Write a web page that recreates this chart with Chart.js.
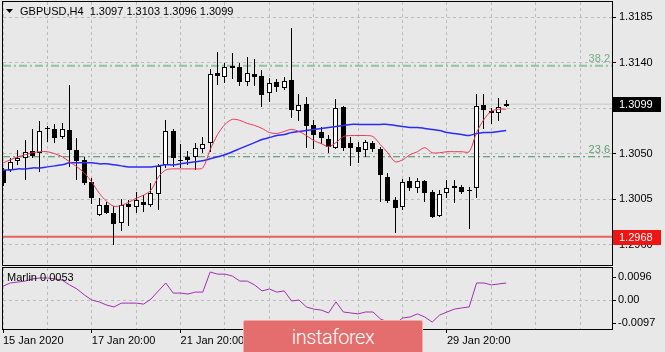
<!DOCTYPE html>
<html>
<head>
<meta charset="utf-8">
<script src="https://cdn.jsdelivr.net/npm/chart.js@4.4.0/dist/chart.umd.min.js"></script>
<style>
  html, body { margin: 0; padding: 0; background: #e8e8e8; }
  #wrap { position: relative; width: 665px; height: 352px; overflow: hidden; background: #e8e8e8; }
  #mainChart { position: absolute; left: 0; top: 0; }
  #subChart { position: absolute; left: 0; top: 266px; }
  #logo {
    position: absolute; left: 243px; top: 320px; width: 178px; height: 40px;
    background: #e46d6d; border: 1px solid #f2a9a9; border-radius: 2px;
    color: #fff; font: 300 20px Roboto, sans-serif; letter-spacing: -0.5px;
    line-height: 32px; text-align: center;
  }
</style>
</head>
<body>
<div id="wrap">
  <canvas id="mainChart" width="665" height="267"></canvas>
  <canvas id="subChart" width="665" height="86"></canvas>
  <div id="logo">instaforex</div>
</div>
<script>
// GBPUSD H4 candles, oldest first
const opens = [1.3034,1.3034,1.3043,1.3046,1.3053,1.3051,1.3075,1.3074,1.3067,1.3073,
  1.3054,1.3044,1.3022,1.2989,1.2999,1.2991,1.2982,1.3000,1.2997,1.3002,
  1.2999,1.3010,1.3039,1.3072,1.3044,1.3047,1.3047,1.3055,1.3061,1.3130,
  1.3126,1.3137,1.3136,1.3121,1.3129,1.3127,1.3110,1.3121,1.3115,1.3123,
  1.3092,1.3099,1.3078,1.3071,1.3065,1.3056,1.3096,1.3061,1.3057,1.3054,
  1.3061,1.3055,1.3027,1.3004,1.2997,1.3023,1.3016,1.3023,1.3012,1.2988,
  1.3011,1.3016,1.3017,1.3014,1.3016,1.3098,1.3092,1.3090,1.3097];
const highs = [1.3036,1.3046,1.3054,1.3064,1.3074,1.3082,1.3077,1.3079,1.3080,1.3118,
  1.3066,1.3047,1.3026,1.3006,1.3002,1.2998,1.3005,1.3004,1.3012,1.3009,
  1.3021,1.3040,1.3083,1.3074,1.3060,1.3053,1.3061,1.3067,1.3134,1.3151,
  1.3140,1.3150,1.3140,1.3146,1.3144,1.3133,1.3125,1.3124,1.3126,1.3174,
  1.3109,1.3106,1.3083,1.3076,1.3069,1.3104,1.3097,1.3067,1.3062,1.3064,
  1.3063,1.3057,1.3031,1.3007,1.3025,1.3027,1.3026,1.3024,1.3014,1.3014,
  1.3024,1.3024,1.3019,1.3017,1.3109,1.3109,1.3095,1.3105,1.3103];
const lows = [1.3018,1.3032,1.3039,1.3024,1.3046,1.3032,1.3062,1.3061,1.3065,1.3037,
  1.3024,1.3019,1.3000,1.2988,1.2990,1.2960,1.2974,1.2979,1.2991,1.2992,
  1.2997,1.2994,1.3036,1.3037,1.3036,1.3039,1.3034,1.3051,1.3052,1.3118,
  1.3120,1.3124,1.3117,1.3117,1.3117,1.3096,1.3101,1.3111,1.3113,1.3085,
  1.3082,1.3056,1.3055,1.3060,1.3051,1.3055,1.3053,1.3038,1.3041,1.3047,
  1.3052,1.3002,1.3001,1.2972,1.2994,1.3013,1.3011,1.3002,1.2986,1.2987,
  1.3006,1.3001,1.3010,1.2976,1.3006,1.3074,1.3079,1.3082,1.3096];
const closes = [1.3021,1.3042,1.3046,1.3052,1.3048,1.3072,1.3074,1.3066,1.3074,1.3054,
  1.3043,1.3021,1.3006,1.2999,1.2991,1.2981,1.2999,1.2997,1.3004,1.2999,
  1.3011,1.3038,1.3072,1.3046,1.3043,1.3044,1.3056,1.3060,1.3129,1.3127,
  1.3136,1.3135,1.3121,1.3130,1.3126,1.3108,1.3120,1.3116,1.3122,1.3093,
  1.3098,1.3077,1.3069,1.3066,1.3057,1.3095,1.3056,1.3056,1.3052,1.3062,
  1.3055,1.3029,1.3003,1.2996,1.3022,1.3016,1.3023,1.3011,1.2987,1.3010,
  1.3016,1.3018,1.3012,1.3013,1.3097,1.3093,1.3090,1.3096,1.3099];

// moving averages (red = fast, blue = slow)
const fastMa = [1.3041,1.3044,1.3047,1.3049,1.3051,1.3052,1.3052,1.3050,1.3047,1.3042,
  1.3037,1.3031,1.3022,1.3011,1.3003,1.2998,1.2999,1.3002,1.3006,1.3009,
  1.3014,1.3027,1.3034,1.3035,1.3035,1.3035,1.3035,1.3036,1.3054,1.3069,
  1.3079,1.3084,1.3083,1.3080,1.3078,1.3075,1.3071,1.3070,1.3072,1.3074,
  1.3072,1.3068,1.3063,1.3060,1.3057,1.3061,1.3067,1.3068,1.3068,1.3068,
  1.3067,1.3059,1.3051,1.3042,1.3044,1.3049,1.3052,1.3056,1.3051,1.3051,
  1.3052,1.3052,1.3052,1.3052,1.3071,1.3084,1.3092,1.3094,1.3094];
const slowMa = [1.3034,1.3034,1.3035,1.3035,1.3036,1.3036,1.3037,1.3038,1.3039,1.3041,
  1.3041,1.3041,1.3041,1.3040,1.3040,1.3039,1.3038,1.3037,1.3037,1.3037,
  1.3037,1.3038,1.3039,1.3039,1.3040,1.3041,1.3042,1.3043,1.3045,1.3047,
  1.3049,1.3052,1.3055,1.3058,1.3061,1.3064,1.3066,1.3068,1.3069,1.3071,
  1.3072,1.3073,1.3074,1.3075,1.3076,1.3077,1.3078,1.3079,1.3079,1.3079,
  1.3079,1.3079,1.3079,1.3078,1.3077,1.3076,1.3076,1.3075,1.3074,1.3073,
  1.3071,1.3070,1.3069,1.3068,1.3070,1.3071,1.3071,1.3072,1.3073];

// Marlin oscillator
const marlin = [0.0058,0.0071,0.0075,0.0079,0.0088,0.0092,0.0092,0.0088,0.0083,0.0063,
  0.0046,0.0021,0.0000,-0.0008,-0.0021,-0.0029,-0.0013,-0.0013,-0.0013,-0.0017,
  0.0004,0.0038,0.0071,0.0029,0.0029,0.0025,0.0033,0.0033,0.0117,0.0108,
  0.0108,0.0100,0.0079,0.0079,0.0063,0.0038,0.0046,0.0033,0.0038,-0.0004,
  0.0000,-0.0029,-0.0038,-0.0042,-0.0054,-0.0008,-0.0050,-0.0054,-0.0058,-0.0050,
  -0.0050,-0.0079,-0.0092,-0.0100,-0.0075,-0.0071,-0.0058,-0.0071,-0.0092,-0.0063,
  -0.0050,-0.0038,-0.0033,-0.0029,0.0071,0.0071,0.0063,0.0067,0.0071];

const priceTicks = [1.2960, 1.3005, 1.3050, 1.3095, 1.3140, 1.3185];
const marlinTicks = [-0.0097, 0, 0.0096];
const timeLabels = ['15 Jan 2020', '17 Jan 20:00', '21 Jan 20:00', '23 Jan 20:00', '27 Jan 20:00', '29 Jan 20:00'];
const fibLabels = ['38.2', '23.6'];
const fibValues = [1.3137, 1.3047];
const supportLevel = 1.2968;
const marlinLabel = 'Marlin 0.0053';
const symbolTitle = 'GBPUSD,H4';

const X_MAX = 82.3;        // empty space right of the last bar
const BARS_PER_GRID = 6;   // one grid line per day
const BARS_PER_LABEL = 12;

Chart.defaults.font.family = "'Liberation Sans', Arial, sans-serif";
Chart.defaults.font.size = 11;
Chart.defaults.color = '#000';

const gridColor = '#bcbcbc';
const idx = closes.map((_, i) => i);
const last = closes.length - 1;
const fix4 = v => v.toFixed(4);

function timeTicks(scale) {
  const t = [];
  for (let v = 0; v <= X_MAX; v += BARS_PER_GRID) t.push({ value: v });
  scale.ticks = t;
}
function levelLine(v) {
  return [{ x: 0, y: v }, { x: X_MAX, y: v }];
}
// fixed axis sizes, no extra label padding around the plot
function fitTo(size) {
  return s => {
    if (s.isHorizontal()) s.height = size; else s.width = size;
    s.paddingTop = 0; s.paddingBottom = 0; s.paddingLeft = 0; s.paddingRight = 0;
  };
}

// round bars to whole pixels so candles stay crisp
const snapPlugin = {
  id: 'snap',
  afterDatasetsUpdate(chart) {
    chart.data.datasets.forEach((ds, di) => {
      if (ds.type !== 'bar') return;
      chart.getDatasetMeta(di).data.forEach(el => {
        el.x = Math.round(el.x - 0.5) + 0.5;
        el.y = Math.round(el.y);
        el.base = Math.round(el.base);
      });
    });
  }
};

const framePlugin = {
  id: 'frame',
  afterDatasetsDraw(chart) {
    const { ctx, chartArea: a } = chart;
    ctx.save();
    ctx.strokeStyle = '#000';
    ctx.lineWidth = 1;
    ctx.strokeRect(a.left - 0.5, a.top - 0.5, a.right - a.left + 1, a.bottom - a.top + 1);
    ctx.restore();
  }
};

function priceBox(ctx, y, text, bg) {
  ctx.fillStyle = bg;
  ctx.fillRect(613, Math.round(y) - 7, 48, 15);
  ctx.fillStyle = '#fff';
  ctx.textAlign = 'left';
  ctx.textBaseline = 'middle';
  ctx.fillText(text, 619, Math.round(y) + 0.5);
}

const mainTexts = {
  id: 'mainTexts',
  afterDraw(chart) {
    const { ctx, chartArea: a } = chart;
    const ys = chart.scales.y;
    ctx.save();
    ctx.font = "11px 'Liberation Sans', Arial, sans-serif";
    // header
    ctx.fillStyle = '#000';
    ctx.beginPath();
    ctx.moveTo(6, 9); ctx.lineTo(13, 9); ctx.lineTo(9.5, 13); ctx.closePath();
    ctx.fill();
    ctx.textBaseline = 'middle';
    ctx.textAlign = 'left';
    const hdr = symbolTitle + '  ' + [opens[last], highs[last], lows[last], closes[last]].map(fix4).join(' ');
    ctx.fillText(hdr, 20, 12);
    // fibo level captions
    ctx.textAlign = 'right';
    ctx.textBaseline = 'bottom';
    fibLabels.forEach((lab, i) => {
      ctx.fillStyle = i === 0 ? '#72ad87' : '#5c9d74';
      ctx.fillText(lab, a.right - 2, ys.getPixelForValue(fibValues[i]) - 1);
    });
    // price boxes on the axis
    priceBox(ctx, ys.getPixelForValue(closes[last]), fix4(closes[last]), '#000');
    priceBox(ctx, ys.getPixelForValue(supportLevel), fix4(supportLevel), '#f01414');
    ctx.restore();
  }
};

new Chart(document.getElementById('mainChart'), {
  type: 'bar',
  data: {
    datasets: [
      { type: 'line', data: levelLine(closes[last]), borderColor: '#c9c9c9', borderWidth: 1, pointRadius: 0, order: 12 },
      { type: 'line', data: levelLine(fibValues[0]), borderColor: '#8fc4a2', borderWidth: 2, borderDash: [8, 3, 2, 3], pointRadius: 0, order: 11 },
      { type: 'line', data: levelLine(fibValues[1]), borderColor: '#3f8f5e', borderWidth: 1, borderDash: [7, 3, 2, 3], pointRadius: 0, order: 11 },
      { type: 'line', data: levelLine(supportLevel), borderColor: '#e86262', borderWidth: 2, pointRadius: 0, order: 11 },
      {
        type: 'bar', data: idx.map(i => ({ x: i, y: [lows[i], highs[i]] })),
        backgroundColor: '#000', borderWidth: 0, barThickness: 1, minBarLength: 1,
        grouped: false, inflateAmount: 0, order: 6
      },
      {
        type: 'bar', data: idx.map(i => ({ x: i, y: [opens[i], closes[i]] })),
        backgroundColor: idx.map(i => closes[i] >= opens[i] ? '#fff' : '#000'),
        borderColor: '#000', borderWidth: 1, borderSkipped: false, barThickness: 5,
        minBarLength: 1, grouped: false, inflateAmount: 0, order: 5
      },
      { type: 'line', data: idx.map(i => ({ x: i, y: slowMa[i] })), borderColor: '#2b2bf5', borderWidth: 1.5, pointRadius: 0, tension: 0.3, order: 2 },
      { type: 'line', data: idx.map(i => ({ x: i, y: fastMa[i] })), borderColor: '#e8385a', borderWidth: 1, pointRadius: 0, tension: 0.3, order: 1 }
    ]
  },
  options: {
    responsive: false,
    animation: false,
    events: [],
    layout: { padding: { left: 3, top: 2, right: 0, bottom: 2 } },
    plugins: { legend: { display: false }, tooltip: { enabled: false } },
    scales: {
      x: {
        type: 'linear', min: 0, max: X_MAX, offset: false,
        afterBuildTicks: timeTicks,
        afterFit: fitTo(0),
        ticks: { display: false },
        grid: { color: gridColor, drawTicks: false, offset: false },
        border: { display: false, dash: [3, 3] }
      },
      y: {
        position: 'right', min: 1.2940, max: 1.3200, beginAtZero: false,
        afterBuildTicks: s => { s.ticks = priceTicks.map(v => ({ value: v })); },
        afterFit: fitTo(53),
        ticks: { callback: v => v.toFixed(4), padding: 3, autoSkip: false },
        grid: { color: gridColor, tickLength: 4, tickColor: '#000', tickBorderDash: [] },
        border: { display: false, dash: [3, 3] }
      }
    }
  },
  plugins: [snapPlugin, framePlugin, mainTexts]
});

const subTexts = {
  id: 'subTexts',
  afterDraw(chart) {
    const { ctx, chartArea: a } = chart;
    ctx.save();
    ctx.font = "11px 'Liberation Sans', Arial, sans-serif";
    ctx.fillStyle = '#000';
    ctx.textAlign = 'left';
    ctx.textBaseline = 'middle';
    ctx.fillText(marlinLabel, a.left + 4, a.top + 10);
    ctx.restore();
  }
};

new Chart(document.getElementById('subChart'), {
  type: 'line',
  data: {
    datasets: [
      { data: idx.map(i => ({ x: i, y: marlin[i] })), borderColor: '#a22fae', borderWidth: 1, pointRadius: 0 }
    ]
  },
  options: {
    responsive: false,
    animation: false,
    events: [],
    layout: { padding: { left: 3, top: 2, right: 0, bottom: 0 } },
    plugins: { legend: { display: false }, tooltip: { enabled: false } },
    scales: {
      x: {
        type: 'linear', min: 0, max: X_MAX, offset: false,
        afterBuildTicks: timeTicks,
        afterFit: fitTo(23),
        ticks: {
          autoSkip: false, maxRotation: 0, align: 'start', padding: 1,
          callback: v => (v % BARS_PER_LABEL === 0 && timeLabels[v / BARS_PER_LABEL]) || ''
        },
        grid: {
          color: gridColor, tickLength: 4, tickBorderDash: [],
          tickColor: c => (c.tick && c.tick.label) ? '#000' : 'rgba(0,0,0,0)'
        },
        border: { display: false, dash: [3, 3] }
      },
      y: {
        position: 'right', min: -0.0121, max: 0.01336,
        afterBuildTicks: s => { s.ticks = marlinTicks.map(v => ({ value: v })); },
        afterFit: fitTo(53),
        ticks: { callback: v => v === 0 ? '0.00' : v.toFixed(4), padding: 2, autoSkip: false },
        grid: {
          color: c => (c.tick && c.tick.value === 0) ? gridColor : 'rgba(0,0,0,0)',
          tickLength: 4, tickColor: '#000', tickBorderDash: []
        },
        border: { display: false, dash: [3, 3] }
      }
    }
  },
  plugins: [framePlugin, subTexts]
});
</script>
</body>
</html>
